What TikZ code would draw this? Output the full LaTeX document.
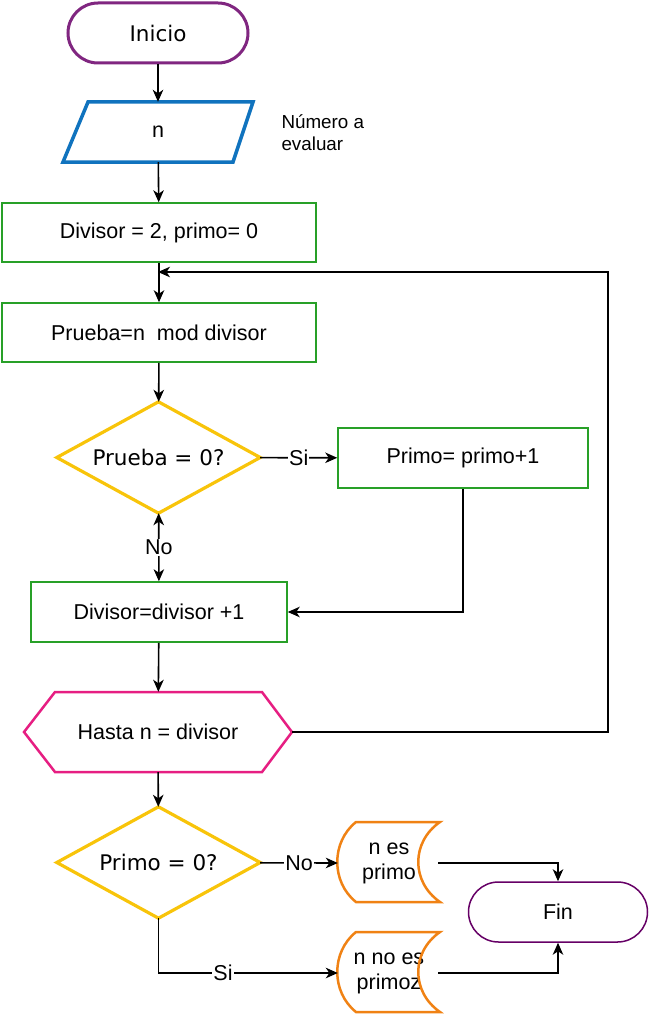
\documentclass[tikz,border=0pt]{standalone}
\usepackage{fontspec}
\setmainfont{Liberation Sans}
\newfontfamily\vfont{DejaVu Sans}
\usetikzlibrary{shapes.geometric,arrows.meta,calc}
\definecolor{cpurple}{RGB}{128,38,128}
\definecolor{cfin}{RGB}{102,0,102}
\definecolor{cblue}{RGB}{16,115,190}
\definecolor{cgreen}{RGB}{40,160,40}
\definecolor{cyellow}{RGB}{248,196,10}
\definecolor{cpink}{RGB}{230,30,130}
\definecolor{corange}{RGB}{240,130,20}
\begin{document}
\begin{tikzpicture}[x=1pt,y=-1pt,
  font=\fontsize{21.5}{25}\selectfont,
  tip/.tip={Stealth[length=12pt,width=10.5pt,inset=3.5pt]},
  terminal/.style={draw,rounded corners=30pt,minimum width=180pt,minimum height=60pt,inner sep=0pt},
  process/.style={draw=cgreen,line width=1.5pt,minimum height=59pt,inner sep=0pt},
  decision/.style={minimum width=203pt,minimum height=111pt,inner sep=0pt,font=\vfont\fontsize{21.5}{25}\selectfont},
  diamondline/.style={draw=cyellow,line width=3.2pt,line join=miter},
  plain/.style={minimum height=60pt,inner sep=0pt,align=center},
  conn/.style={line width=1.6pt,-tip},
  lbl/.style={fill=white,inner sep=1pt}]
\useasboundingbox (0,0) rectangle (650,1014);

% nodes
\node[terminal,draw=cpurple,line width=3pt,font=\vfont\fontsize{21.5}{25}\selectfont] (inicio) at (158,33) {Inicio};
\node[plain,minimum width=170pt] (n) at (158,132) {n};
\draw[cblue,line width=3.5pt] (88,102) -- (253,102) -- (233,162) -- (63,162) -- cycle;
\node[anchor=west,align=left,font=\fontsize{18.8}{22}\selectfont] (note) at (278,133) {Número a\\evaluar};

\node[process,minimum width=314pt] (init) at (159,232.5) {Divisor = 2, primo= 0};
\coordinate (join) at (158,272);
\node[process,minimum width=314pt] (prueba) at (159,332.5) {Prueba=n\ \ mod divisor};
\node[decision] (d1) at (158.5,457.5) {Prueba = 0?};
\draw[diamondline] (d1.west) -- (d1.north) -- (d1.east) -- (d1.south) -- cycle;
\node[process,minimum width=250pt,minimum height=60pt] (primo) at (463,458) {Primo= primo+1};
\node[process,minimum width=256pt,minimum height=60pt] (inc) at (159,612) {Divisor=divisor +1};

\node[plain,minimum width=268pt,minimum height=80pt] (hasta) at (158,732) {Hasta n = divisor};
\draw[cpink,line width=2.5pt] (24,732) -- (55,692) -- (262,692) -- (292,732) -- (262,772) -- (55,772) -- cycle;

\node[decision] (d2) at (158.5,862.5) {Primo = 0?};
\draw[diamondline] (d2.west) -- (d2.north) -- (d2.east) -- (d2.south) -- cycle;

\node[plain,minimum width=102pt,minimum height=80pt] (s1) at (389,863) {n es\\primo};
\draw[corange,line width=2.5pt] (356,822) -- (440,822) .. controls (411,842) and (411,882) .. (440,902) -- (356,902) .. controls (331,882) and (331,842) .. (356,822) -- cycle;
\node[plain,minimum width=102pt,minimum height=80pt] (s2) at (389,973) {n no es\\primoz};
\draw[corange,line width=2.5pt] (356,932) -- (440,932) .. controls (411,952) and (411,992) .. (440,1012) -- (356,1012) .. controls (331,992) and (331,952) .. (356,932) -- cycle;

\node[terminal,draw=cfin,line width=1.5pt,minimum width=179pt] (fin) at (558,912) {Fin};

\coordinate (back) at (608,272);

% connectors
\draw[conn] (inicio) -- (n);
\draw[conn] (n) -- (init);
\draw[conn] (init) -- (prueba);
\draw[conn] (prueba) -- (d1);
\draw[conn] (d1) -- node[lbl]{Si} (primo);
\draw[conn] (primo.south) |- (inc.east);
\draw[line width=1.6pt,tip-tip] (d1) -- node[lbl]{No} (inc);
\draw[conn] (inc) -- (hasta);
\draw[conn] (hasta.east) -| (back) -- (join);
\draw[conn] (hasta) -- (d2);
\draw[conn] (d2) -- node[lbl]{No} (s1.west);
\draw[conn] (d2.south) |- node[lbl,pos=0.68]{Si} (s2.west);
\draw[conn] ([xshift=-2pt]s1.east) -| (fin.north);
\draw[conn] ([xshift=-2pt]s2.east) -| (fin.south);
\end{tikzpicture}
\end{document}
